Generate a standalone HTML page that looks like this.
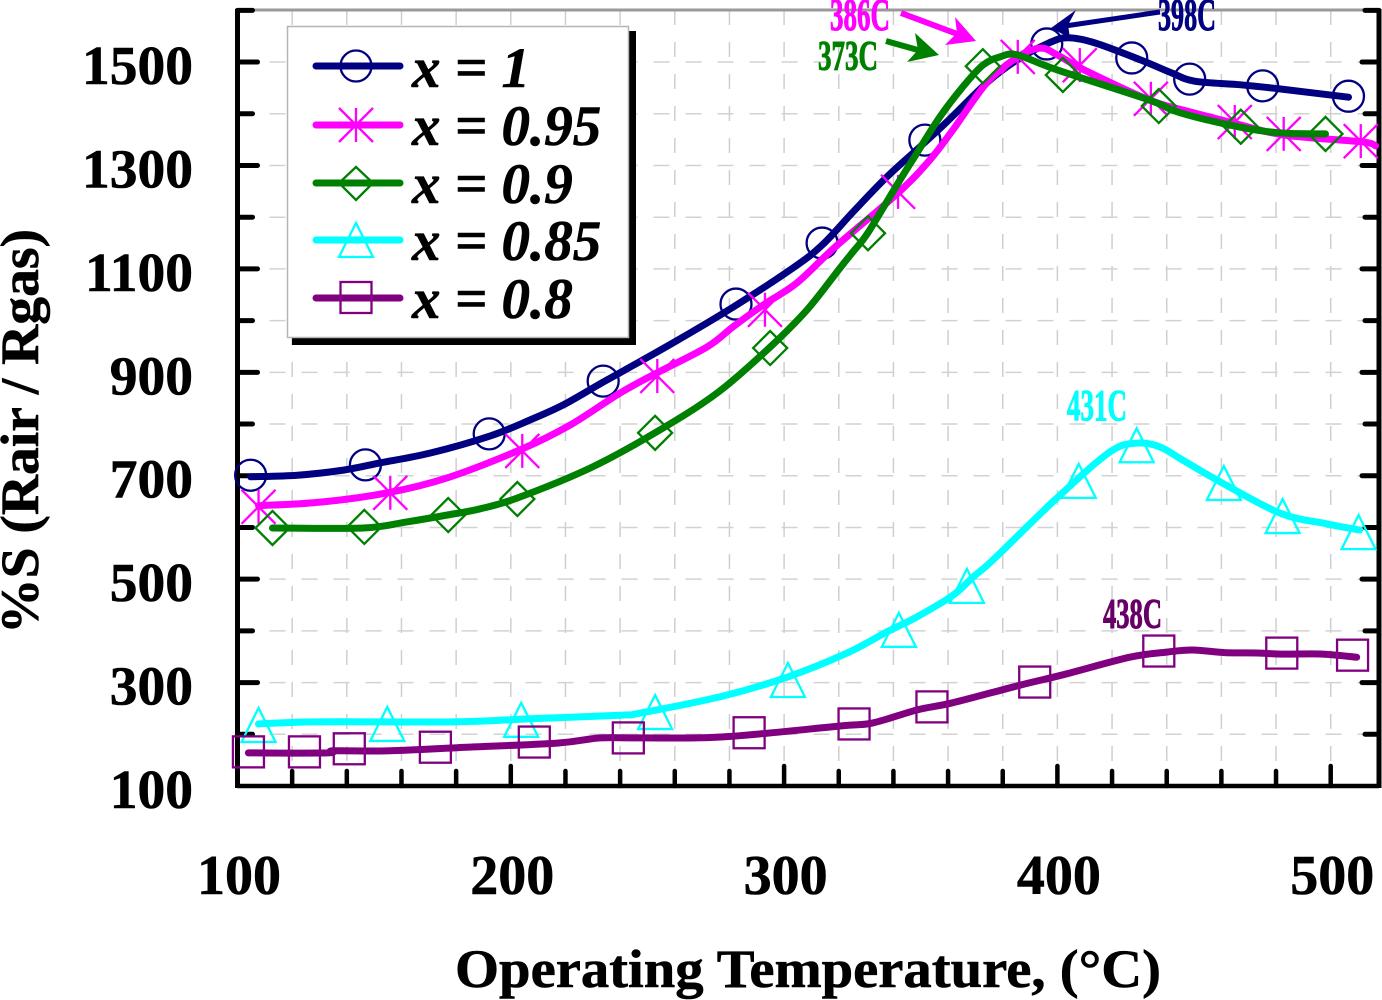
<!DOCTYPE html>
<html lang="en">
<head>
<meta charset="utf-8">
<title>Sensitivity vs Operating Temperature</title>
<style>
html,body{margin:0;padding:0;background:#fff;width:1382px;height:1000px;overflow:hidden}
svg{display:block}
text{font-family:"Liberation Serif",serif;font-weight:bold}
.heavy{stroke:#000;stroke-width:.6px}
.callout{stroke-width:1px}
</style>
</head>
<body>
<svg id="chart" xmlns="http://www.w3.org/2000/svg" width="1382" height="1000" viewBox="0 0 1382 1000">
  <g id="grid"></g>
  <g id="axes"></g>
  <g id="series"></g>

  <g>
    <text class="callout" x="830" y="30" font-size="45" textLength="60" lengthAdjust="spacingAndGlyphs" fill="#ff00ff" stroke="#ff00ff">386C</text>
    <text class="callout" x="818" y="70" font-size="42" textLength="60" lengthAdjust="spacingAndGlyphs" fill="#008000" stroke="#008000">373C</text>
    <text class="callout" x="1158" y="30" font-size="45" textLength="58" lengthAdjust="spacingAndGlyphs" fill="#000080" stroke="#000080">398C</text>
    <text class="callout" x="1067" y="420" font-size="44" textLength="60" lengthAdjust="spacingAndGlyphs" fill="#00ffff" stroke="#00ffff">431C</text>
    <text class="callout" x="1103" y="628" font-size="42" textLength="59" lengthAdjust="spacingAndGlyphs" fill="#660066" stroke="#660066">438C</text>
    <g fill="#ff00ff">
      <line x1="901" y1="13" x2="960" y2="35" stroke="#ff00ff" stroke-width="6"/>
      <polygon points="976,41 945,45 957,33 955,17"/>
    </g>
    <g fill="#008000">
      <line x1="886" y1="41" x2="925" y2="52" stroke="#008000" stroke-width="6"/>
      <polygon points="939,55 907,62 918,50 915,33"/>
    </g>
    <g fill="#000080">
      <line x1="1160" y1="12" x2="1065" y2="26" stroke="#000080" stroke-width="5"/>
      <polygon points="1051,28 1076,10 1068,25 1070,38"/>
    </g>
  </g>

  <g>
    <rect x="292" y="31" width="344" height="314" fill="#000"/>
    <rect x="287.5" y="26.5" width="341" height="311" fill="#fff" stroke="#b5b5b5" stroke-width="1.5"/>
    <g>
      <circle cx="356" cy="66" r="15.5" fill="none" stroke="#000080" stroke-width="2.3"/>
      <line x1="316" y1="66" x2="400" y2="66" stroke="#000080" stroke-width="7" stroke-linecap="round"/>
      <text class="heavy" x="412" y="87" font-size="57" font-style="italic">x = 1</text>
    </g>
    <g>
      <path d="M356,108V142M339,108L373,142M339,142L373,108" fill="none" stroke="#ff00ff" stroke-width="2.3"/>
      <line x1="316" y1="125" x2="400" y2="125" stroke="#ff00ff" stroke-width="7" stroke-linecap="round"/>
      <text class="heavy" x="412" y="145" font-size="57" font-style="italic">x = 0.95</text>
    </g>
    <g>
      <polygon points="356,167 373,183 356,200 339,183" fill="none" stroke="#008000" stroke-width="2.3"/>
      <line x1="316" y1="183" x2="400" y2="183" stroke="#008000" stroke-width="7" stroke-linecap="round"/>
      <text class="heavy" x="412" y="203" font-size="57" font-style="italic">x = 0.9</text>
    </g>
    <g>
      <polygon points="356,223 373,257 339,257" fill="none" stroke="#00ffff" stroke-width="2.3"/>
      <line x1="316" y1="240" x2="400" y2="240" stroke="#00ffff" stroke-width="7" stroke-linecap="round"/>
      <text class="heavy" x="412" y="260" font-size="57" font-style="italic">x = 0.85</text>
    </g>
    <g>
      <rect x="340.5" y="282" width="31" height="31" fill="none" stroke="#800080" stroke-width="2.3"/>
      <line x1="316" y1="298" x2="400" y2="298" stroke="#800080" stroke-width="7" stroke-linecap="round"/>
      <text class="heavy" x="412" y="318" font-size="57" font-style="italic">x = 0.8</text>
    </g>
  </g>

  <text class="heavy" x="455" y="987" font-size="54" textLength="706" lengthAdjust="spacingAndGlyphs" fill="#000">Operating Temperature, (°C)</text>
  <text class="heavy" transform="translate(38,634) rotate(-90)" x="0" y="0" font-size="54" textLength="405" lengthAdjust="spacingAndGlyphs" fill="#000">%S (Rair / Rgas)</text>
</svg>

<script>
// ---- Axis labels ----
const xTickLabels = [100, 200, 300, 400, 500];
const yTickLabels = [100, 300, 500, 700, 900, 1100, 1300, 1500];
const xMinorTicks = [120, 140, 160, 180, 220, 240, 260, 280, 320, 340, 360, 380, 420, 440, 460, 480];
const yMinorTicks = [200, 400, 600, 800, 1000, 1200, 1400, 1600];

// ---- x = 1 ----
const navyLineT = [104.8,121.9,138.8,152.3,170.6,192.5,207.1,219.2,233.8,259.4,281.3,303.3,313.9,325.2,337.6,349.7,359.5,374.2,385.2,396.9,403.8,413.7,430.5,441.8,450.2,467.1,481.3,506.5];
const navyLineS = [698,701,711,725,744,777,808,837,881,957,1026,1102,1146,1210,1278,1336,1384,1460,1504,1537,1547,1537,1504,1479,1463,1456,1448,1432];
const navyMarkT = [104.8,146.8,192.1,233.8,282.4,313.9,351.5,396.1,427.2,448.4,475.1,506.5];
const navyMarkS = [701,721,781,883,1032,1150,1349,1535,1508,1467,1454,1434];

// ---- x = 0.95 ----
const magentaLineT = [107.7,130.3,154.8,176.8,204.2,221.7,240,252.8,271.8,281.3,292.3,304.7,318.6,341.7,353.4,361.8,374.2,385.5,393.9,399.8,409.7,433.4,446.2,464.5,482.8,511,516.4];
const magentaLineS = [642,649,667,696,752,798,860,897,949,988,1030,1073,1142,1247,1311,1369,1460,1510,1527,1514,1485,1427,1407,1382,1359,1346,1338];
const magentaMarkT = [107.7,155.9,204.2,253.6,293,341.7,385.5,408.2,434.2,464.9,482.8,511];
const magentaMarkS = [640,667,748,893,1021,1249,1510,1494,1429,1384,1361,1347];

// ---- x = 0.9 ----
const greenLineT = [112.8,146.1,162.2,176.8,188.8,202.4,229.1,252.8,275.5,294.9,308.4,320.5,325.2,330.7,341.7,348.6,357,365.4,372.7,379,385.2,399.8,433.4,444.8,466,481.3,498.1];
const greenLineS = [599,599,611,624,636,657,715,783,860,949,1021,1102,1133,1170,1266,1324,1394,1452,1494,1510,1514,1485,1427,1402,1375,1363,1361];
const greenMarkT = [112.8,146.4,177.1,202.4,252.8,294.9,330.7,372.7,402,437.1,467.1,498.1];
const greenMarkS = [599,601,624,655,783,947,1169,1492,1475,1415,1375,1361];

// ---- x = 0.85 ----
const cyanLineT = [107.7,129.2,179,207.1,240,247.3,277.7,301.4,323,337.6,348.6,361.8,369.1,376.4,399.8,419.2,429,437.4,445.9,458.3,481.3,498.5,510.6];
const cyanLineS = [220,224,224,230,237,241,274,311,357,398,427,469,504,537,657,746,763,756,730,692,628,607,595];
const cyanMarkT = [107.7,154.8,203.8,252.8,301.4,342,366.9,407.8,429,460.9,482.4,510.2];
const cyanMarkS = [218,220,228,243,305,402,487,690,759,686,622,591];

// ---- x = 0.8 ----
const purpleLineT = [104,132.9,135.1,155.9,180.4,217,232.7,247.3,277.7,320.5,332.5,348.6,361.8,386.3,402,426.5,440,449.5,461.2,474,482.4,497,509.5];
const purpleLineS = [164,164,168,168,174,183,193,193,195,216,222,247,261,295,315,349,359,363,358,357,355,355,349];
const purpleMarkT = [104,124.5,140.9,172.4,208.6,243,287.2,325.6,354.1,391.7,437.1,482.1,508];
const purpleMarkS = [166,166,172,175,185,193,203,220,253,301,361,357,353];

// ---- Axis functions ----
const xDomainStart = 100, xOrigin = 237.5, xPerUnit = 2.733;
const yDomainStart = 100, yOrigin = 786, yPerUnit = 0.5171;
function xScale(t) { return xOrigin + (t - xDomainStart) * xPerUnit; }
function yScale(v) { return yOrigin - (v - yDomainStart) * yPerUnit; }

const NS = 'http://www.w3.org/2000/svg';
const plotLeft = 237.5, plotRight = 1379, plotTop = 10, plotBottom = 786;

function make(tag, parent, attrs) {
  const el = document.createElementNS(NS, tag);
  for (const k in attrs) el.setAttribute(k, attrs[k]);
  parent.appendChild(el);
  return el;
}

function smoothPath(ts, vs) {
  const p = ts.map((t, i) => [xScale(t), yScale(vs[i])]);
  let d = 'M' + p[0][0].toFixed(1) + ',' + p[0][1].toFixed(1);
  for (let i = 0; i < p.length - 1; i++) {
    const p0 = p[Math.max(i - 1, 0)], p1 = p[i], p2 = p[i + 1], p3 = p[Math.min(i + 2, p.length - 1)];
    const c1x = p1[0] + (p2[0] - p0[0]) / 6, c1y = p1[1] + (p2[1] - p0[1]) / 6;
    const c2x = p2[0] - (p3[0] - p1[0]) / 6, c2y = p2[1] - (p3[1] - p1[1]) / 6;
    d += 'C' + c1x.toFixed(1) + ',' + c1y.toFixed(1) + ' ' + c2x.toFixed(1) + ',' + c2y.toFixed(1) + ' ' + p2[0].toFixed(1) + ',' + p2[1].toFixed(1);
  }
  return d;
}

// ---- Grid ----
const gridG = document.getElementById('grid');
const gridXs = xMinorTicks.concat(xTickLabels.slice(1)).map(xScale);
gridXs.forEach(function (px) {
  const l = make('line', gridG, { x1: px, y1: plotTop, x2: px, y2: plotBottom, stroke: '#cfcfcf', 'stroke-width': 1.5, 'stroke-dasharray': '15 17' });
  
  
});
const gridYs = yMinorTicks.concat(yTickLabels.slice(1)).filter(function (v) { return v < 1600; }).map(yScale);
gridYs.forEach(function (py) {
  const l = make('line', gridG, { x1: plotLeft, y1: py, x2: plotRight, y2: py, stroke: '#d2d2d2', 'stroke-width': 1.5, 'stroke-dasharray': '16 16' });
  
  
});

// ---- Axes ----
const axesG = document.getElementById('axes');
const topLine = make('line', axesG, { x1: plotLeft, y1: plotTop, x2: plotRight, y2: plotTop, stroke: '#999', 'stroke-width': 3 });


const leftLine = make('line', axesG, { x1: plotLeft, y1: plotTop - 1, x2: plotLeft, y2: plotBottom + 2, stroke: '#000', 'stroke-width': 5 });


const rightLine = make('line', axesG, { x1: plotRight, y1: plotTop - 1, x2: plotRight, y2: plotBottom + 2, stroke: '#000', 'stroke-width': 5 });


const bottomLine = make('line', axesG, { x1: plotLeft, y1: plotBottom, x2: plotRight, y2: plotBottom, stroke: '#000', 'stroke-width': 4.5 });



function yTick(v, leftLen, rightLen) {
  const py = yScale(v);
  const a = make('line', axesG, { x1: plotLeft, y1: py, x2: plotLeft + leftLen, y2: py, stroke: '#000', 'stroke-width': 5, 'stroke-linecap': 'round' });
  
  
  const b = make('line', axesG, { x1: plotRight, y1: py, x2: plotRight - rightLen, y2: py, stroke: '#000', 'stroke-width': 5, 'stroke-linecap': 'round' });
  
  
}
function xTick(t, len) {
  const px = xScale(t);
  const a = make('line', axesG, { x1: px, y1: plotBottom, x2: px, y2: plotBottom - len, stroke: '#000', 'stroke-width': 4.5, 'stroke-linecap': 'round' });
  
  
}
yMinorTicks.forEach(function (v) { yTick(v, 15, 14); });
yTickLabels.forEach(function (v) {
  if (v > 100) yTick(v, 20, 17);
  const t = make('text', axesG, { x: 193, y: yScale(v) + 22, 'font-size': 55.5, 'text-anchor': 'end', fill: '#000', class: 'heavy' });
  t.textContent = v;
  
  
});
xMinorTicks.forEach(function (t) { xTick(t, 15); });
xTickLabels.forEach(function (v) {
  if (v > 100) xTick(v, 20);
  const t = make('text', axesG, { x: xScale(v) + 1.5, y: 894, 'font-size': 56, 'text-anchor': 'middle', fill: '#000', class: 'heavy' });
  t.textContent = v;
  
  
});

// ---- Marker shapes ----
function drawMarker(kind, g, cx, cy, color) {
  const base = { fill: 'none', stroke: color, 'stroke-width': 2.3 };
  let el;
  if (kind === 'circle') {
    el = make('circle', g, Object.assign({ cx: cx, cy: cy, r: 15.5 }, base));
  } else if (kind === 'star') {
    const r = 17;
    el = make('path', g, Object.assign({ d: 'M' + cx + ',' + (cy - r) + 'V' + (cy + r) + 'M' + (cx - r) + ',' + (cy - r) + 'L' + (cx + r) + ',' + (cy + r) + 'M' + (cx - r) + ',' + (cy + r) + 'L' + (cx + r) + ',' + (cy - r) }, base));
  } else if (kind === 'diamond') {
    const r = 17;
    el = make('polygon', g, Object.assign({ points: cx + ',' + (cy - r) + ' ' + (cx + r) + ',' + cy + ' ' + cx + ',' + (cy + r) + ' ' + (cx - r) + ',' + cy }, base));
  } else if (kind === 'triangle') {
    const r = 17;
    el = make('polygon', g, Object.assign({ points: cx + ',' + (cy - r) + ' ' + (cx + r) + ',' + (cy + r) + ' ' + (cx - r) + ',' + (cy + r) }, base));
  } else {
    const r = 15.5;
    el = make('rect', g, Object.assign({ x: cx - r, y: cy - r, width: 2 * r, height: 2 * r }, base));
  }
  return el;
}

// ---- Series ----
const seriesG = document.getElementById('series');
function drawSeries(name, color, kind, lineT, lineS, markT, markS) {
  const g = make('g', seriesG, {});
  
  
  markT.forEach(function (t, i) {
    const m = drawMarker(kind, g, xScale(t), yScale(markS[i]), color);
    
    
  });
  const path = make('path', g, { d: smoothPath(lineT, lineS), fill: 'none', stroke: color, 'stroke-width': 7, 'stroke-linecap': 'round', 'stroke-linejoin': 'round' });
  
  
}
drawSeries('series-x-1', '#000080', 'circle', navyLineT, navyLineS, navyMarkT, navyMarkS);
drawSeries('series-x-0.95', '#ff00ff', 'star', magentaLineT, magentaLineS, magentaMarkT, magentaMarkS);
drawSeries('series-x-0.9', '#008000', 'diamond', greenLineT, greenLineS, greenMarkT, greenMarkS);
drawSeries('series-x-0.85', '#00ffff', 'triangle', cyanLineT, cyanLineS, cyanMarkT, cyanMarkS);
drawSeries('series-x-0.8', '#800080', 'square', purpleLineT, purpleLineS, purpleMarkT, purpleMarkS);
</script>
</body>
</html>
